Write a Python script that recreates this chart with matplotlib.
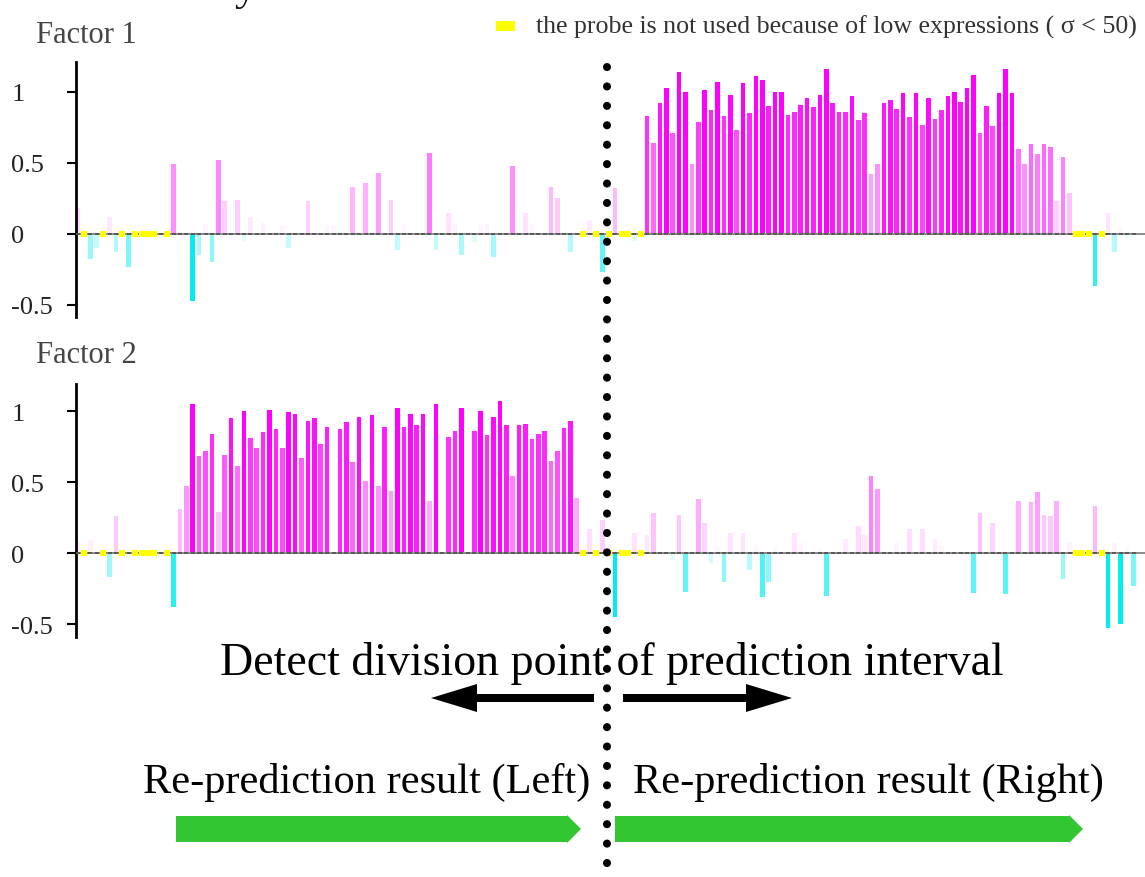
import numpy as np
import matplotlib
matplotlib.use('Agg')
import matplotlib.pyplot as plt
from matplotlib.patches import FancyArrow, Rectangle
from matplotlib.colors import to_rgb

plt.rcParams['font.family'] = ['Liberation Serif', 'DejaVu Serif']

# ---------------- data ----------------
n_probes = 166
unused_probes = [1, 4, 7, 9, 10, 11, 12, 14, 79, 81, 83, 85, 86, 88, 156, 157, 158, 160]

f1_idx = [0, 2, 3, 5, 6, 8, 15, 17, 18, 19, 20, 21, 22, 23, 25, 26, 27, 29, 32, 33,
          36, 39, 40, 43, 45, 47, 49, 50, 51, 55, 56, 58, 59, 60, 62, 63, 64, 65, 68, 70,
          71, 74, 75, 77, 80, 82, 84, 87] + list(range(89, 156)) + [159, 161, 162, 163, 164]
f1_val = [0.18, -0.18, -0.10, 0.12, -0.13, -0.23, 0.49, 0.02, -0.47, -0.15, 0.07, -0.20, 0.52, 0.23, 0.24, -0.05, 0.12, 0.08, 0.06, -0.10,
          0.23, 0.06, 0.06, 0.33, 0.36, 0.43, 0.24, -0.11, 0.07, 0.57, -0.11, 0.15, 0.07, -0.15, -0.06, 0.06, 0.07, -0.16, 0.48, 0.15,
          0.07, 0.33, 0.25, -0.13, 0.10, -0.27, 0.32, -0.05,
          0.83, 0.64, 0.92, 1.03, 0.71, 1.14, 1.00, 0.49, 0.79, 1.01, 0.87, 1.07, 0.83, 0.98, 0.73, 1.06, 0.85, 1.11, 1.08, 0.90,
          1.00, 1.00, 0.84, 0.86, 0.91, 0.96, 0.89, 0.98, 1.16, 0.92, 0.86, 0.86, 0.97, 0.80, 0.85, 0.42, 0.49, 0.92, 0.94, 0.88,
          0.99, 0.82, 0.99, 0.77, 0.96, 0.81, 0.87, 0.97, 1.00, 0.93, 1.03, 1.12, 0.71, 0.90, 0.76, 0.99, 1.16, 0.99, 0.60, 0.49,
          0.63, 0.56, 0.63, 0.61, 0.23, 0.54, 0.29,
          -0.37, 0.15, -0.13, 0.05, -0.03]

f2_idx = [0, 2, 5, 6, 15] + list(range(16, 40)) + list(range(41, 57)) + [58, 59, 60] + list(range(62, 79)) + \
         [80, 82, 84, 87, 89, 90, 93, 94, 95, 97, 98, 99, 100, 101, 102, 104, 105, 106, 107, 108, 109, 112, 113, 116, 117,
          120, 122, 123, 124, 125, 128, 130, 132, 134, 135, 140, 141, 143, 145, 147, 149, 150, 151, 152, 153, 154, 155,
          159, 161, 162, 163, 164, 165]
f2_val = [0.08, 0.09, -0.17, 0.26, -0.38,
          0.31, 0.47, 1.05, 0.68, 0.72, 0.84, 0.29, 0.69, 0.95, 0.61, 1.00, 0.81, 0.74, 0.85, 1.01, 0.87, 0.74, 0.99, 0.98, 0.67,
          0.93, 0.95, 0.77, 0.89,
          0.87, 0.92, 0.64, 0.96, 0.51, 0.97, 0.47, 0.89, 0.44, 1.02, 0.89, 0.98, 0.90, 0.98, 0.37, 1.05,
          0.82, 0.86, 1.02,
          0.86, 1.00, 0.83, 0.96, 1.07, 0.90, 0.54, 0.90, 0.91, 0.80, 0.84, 0.86, 0.65, 0.72, 0.88, 0.93, 0.39,
          0.17, 0.23, -0.45, 0.14, 0.13, 0.28, -0.05, 0.27, -0.27, 0.38, 0.21, -0.07, 0.05, -0.20, 0.14, 0.14, -0.12, 0.06,
          -0.31, -0.20, 0.05, 0.14, 0.07, 0.04, -0.30,
          0.10, 0.19, 0.13, 0.54, 0.45, 0.07, 0.17, 0.17, 0.10, 0.06, -0.28, 0.28, 0.21, -0.29, 0.37, 0.36, 0.43, 0.27,
          0.26, 0.37, -0.18, 0.08,
          0.33, -0.53, 0.07, -0.50, 0.05, -0.23]

ytick_vals = [-0.5, 0, 0.5, 1]
ytick_labels = ['-0.5', '0', '0.5', '1']
factor_titles = ['Factor 1', 'Factor 2']
legend_text = 'the probe is not used because of low expressions ( \u03c3 < 50)'

# ---------------- figure ----------------
W, H = 1145, 878
fig = plt.figure(figsize=(W / 100, H / 100), dpi=100)


def px_axes(left, top, right, bottom, **kw):
    return fig.add_axes([left / W, 1 - bottom / H, (right - left) / W, (bottom - top) / H], **kw)


MAG = np.array(to_rgb('#FF00FF'))
CYA = np.array(to_rgb('#00EEF0'))
WHITE = np.ones(3)


def bar_color(v):
    if v >= 0:
        t = min(v, 1.0) ** 1.15
        return tuple(WHITE * (1 - t) + MAG * t)
    t = min(-v / 0.45, 1.0)
    return tuple(WHITE * (1 - t) + CYA * t)


used = [i for i in range(n_probes) if i not in unused_probes]


def draw_factor(ax, idx, vals, ylim):
    ax.bar(idx, vals, width=0.7, color=[bar_color(v) for v in vals], linewidth=0, zorder=2)
    ax.axhline(0, color='#8a8a8a', lw=1.4, zorder=3)
    ax.plot(used, np.zeros(len(used)), ls='none', marker='_', ms=3.5, mew=1.2, color='#505050', zorder=3.5)
    ax.scatter(unused_probes, np.zeros(len(unused_probes)), marker='s', s=24, color='#FFFF00', lw=0, zorder=4)
    ax.set_xlim((76 - 77.5) / 6.4, (1145 - 77.5) / 6.4)
    ax.set_ylim(ylim)
    for s in ['top', 'right', 'bottom']:
        ax.spines[s].set_visible(False)
    ax.spines['left'].set_linewidth(2)
    ax.set_xticks([])
    ax.set_yticks(ytick_vals)
    ax.set_yticklabels(ytick_labels)
    ax.tick_params(axis='y', direction='out', length=6.5, width=1.5, pad=40, labelsize=19, labelcolor='#222222')
    for lab in ax.get_yticklabels():
        lab.set_horizontalalignment('left')
    ax.patch.set_alpha(0)


ax1 = px_axes(76, 63, 1145, 318)
draw_factor(ax1, f1_idx, f1_val, (-0.585, 1.21))
ax2 = px_axes(76, 385, 1145, 638)
draw_factor(ax2, f2_idx, f2_val, (-0.59, 1.19))

# ---------------- overlay (annotations) ----------------
ov = fig.add_axes([0, 0, 1, 1], zorder=10)
ov.set_xlim(0, W)
ov.set_ylim(H, 0)
ov.axis('off')
ov.patch.set_alpha(0)

ov.text(36, 0, 'Factor analysis result', fontsize=32, va='baseline', ha='left', color='#111111')
ov.text(36, 43, factor_titles[0], fontsize=22, va='baseline', ha='left', color='#444444')
ov.text(36, 363, factor_titles[1], fontsize=22, va='baseline', ha='left', color='#444444')

ov.add_patch(Rectangle((496, 22), 19, 10, color='#FFFF00', lw=0))
ov.text(536, 27, legend_text, fontsize=18.6, va='center', ha='left', color='#333333')

# dotted division line
ov.plot([607, 607], [68, 868], color='black', lw=5.8, linestyle=(0, (0.01, 2.4)),
        dash_capstyle='round', solid_capstyle='round')

ov.text(612, 675, 'Detect division point of prediction interval', fontsize=33, va='baseline', ha='center',
        color='black')
ov.add_patch(FancyArrow(594, 699, -163, 0, width=8, head_width=28, head_length=46,
                        length_includes_head=True, color='black', lw=0))
ov.add_patch(FancyArrow(623, 699, 169, 0, width=8, head_width=28, head_length=46,
                        length_includes_head=True, color='black', lw=0))

ov.text(143, 793, 'Re-prediction result (Left)', fontsize=30.5, va='baseline', ha='left', color='black')
ov.text(633, 793, 'Re-prediction result (Right)', fontsize=30.5, va='baseline', ha='left', color='black')

ov.add_patch(FancyArrow(176, 830, 405, 0, width=26, head_width=28, head_length=14,
                        length_includes_head=True, color='#33C633', lw=0))
ov.add_patch(FancyArrow(615, 830, 468, 0, width=26, head_width=28, head_length=14,
                        length_includes_head=True, color='#33C633', lw=0))

fig.savefig('out.png', dpi=100)
